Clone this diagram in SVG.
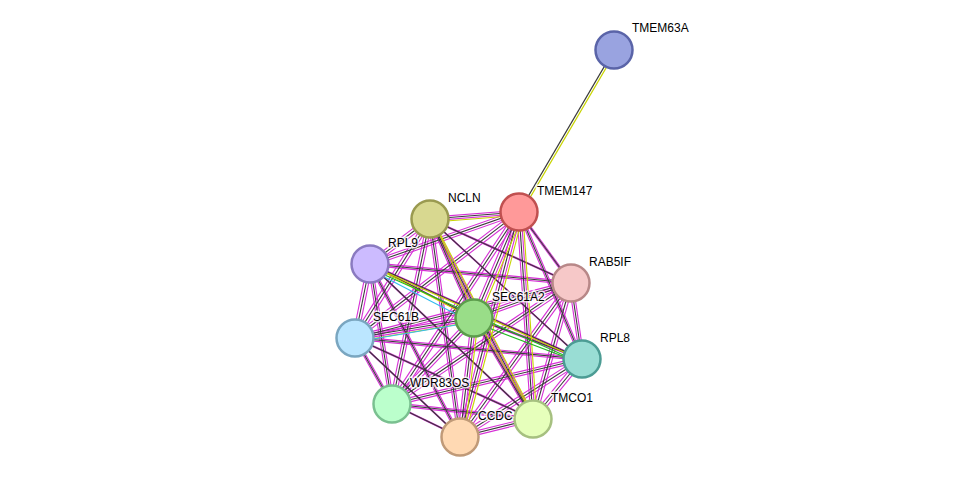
<svg xmlns="http://www.w3.org/2000/svg" xmlns:xlink="http://www.w3.org/1999/xlink" width="976" height="483" viewBox="0 0 976 483">
<style>
.n{stroke-width:2.5}
.t{font-family:"Liberation Sans",Arial,sans-serif;font-size:12px;fill:#000;paint-order:stroke;stroke:#fff;stroke-width:3px;stroke-opacity:0.8}
</style>
<defs>
<g id="e">
<line x1="519" y1="212" x2="430" y2="219"/><line x1="519" y1="212" x2="370" y2="264"/><line x1="519" y1="212" x2="571" y2="283"/><line x1="519" y1="212" x2="474" y2="318"/><line x1="519" y1="212" x2="355" y2="338"/><line x1="519" y1="212" x2="582" y2="359"/><line x1="519" y1="212" x2="392" y2="404"/><line x1="519" y1="212" x2="533" y2="419"/><line x1="519" y1="212" x2="460" y2="437"/>
<line x1="430" y1="219" x2="370" y2="264"/><line x1="430" y1="219" x2="571" y2="283"/><line x1="430" y1="219" x2="474" y2="318"/><line x1="430" y1="219" x2="355" y2="338"/><line x1="430" y1="219" x2="582" y2="359"/><line x1="430" y1="219" x2="392" y2="404"/><line x1="430" y1="219" x2="533" y2="419"/><line x1="430" y1="219" x2="460" y2="437"/>
<line x1="370" y1="264" x2="571" y2="283"/><line x1="370" y1="264" x2="474" y2="318"/><line x1="370" y1="264" x2="355" y2="338"/><line x1="370" y1="264" x2="582" y2="359"/><line x1="370" y1="264" x2="392" y2="404"/><line x1="370" y1="264" x2="533" y2="419"/><line x1="370" y1="264" x2="460" y2="437"/>
<line x1="571" y1="283" x2="474" y2="318"/><line x1="571" y1="283" x2="355" y2="338"/><line x1="571" y1="283" x2="582" y2="359"/><line x1="571" y1="283" x2="392" y2="404"/><line x1="571" y1="283" x2="533" y2="419"/><line x1="571" y1="283" x2="460" y2="437"/>
<line x1="474" y1="318" x2="355" y2="338"/><line x1="474" y1="318" x2="582" y2="359"/><line x1="474" y1="318" x2="392" y2="404"/><line x1="474" y1="318" x2="533" y2="419"/><line x1="474" y1="318" x2="460" y2="437"/>
<line x1="355" y1="338" x2="582" y2="359"/><line x1="355" y1="338" x2="392" y2="404"/><line x1="355" y1="338" x2="533" y2="419"/><line x1="355" y1="338" x2="460" y2="437"/>
<line x1="582" y1="359" x2="392" y2="404"/><line x1="582" y1="359" x2="533" y2="419"/><line x1="582" y1="359" x2="460" y2="437"/>
<line x1="392" y1="404" x2="533" y2="419"/><line x1="392" y1="404" x2="460" y2="437"/>
<line x1="533" y1="419" x2="460" y2="437"/>
</g>
<g id="y">
<line x1="519" y1="212" x2="474" y2="318"/><line x1="519" y1="212" x2="533" y2="419"/><line x1="519" y1="212" x2="460" y2="437"/><line x1="430" y1="219" x2="474" y2="318"/><line x1="370" y1="264" x2="582" y2="359"/><line x1="370" y1="264" x2="474" y2="318"/><line x1="474" y1="318" x2="533" y2="419"/><line x1="474" y1="318" x2="460" y2="437"/><line x1="355" y1="338" x2="474" y2="318"/><line x1="430" y1="219" x2="533" y2="419"/><line x1="430" y1="219" x2="519" y2="212"/>
</g>
</defs>
<g id="connectors" fill="none" stroke-width="1.1">
<use xlink:href="#e" stroke="#d62fd6" transform="translate(-2.2,-1.6)"/>
<use xlink:href="#e" stroke="#d62fd6" transform="translate(2.2,1.6)"/>
<use xlink:href="#e" stroke="#3a3a3a"/>
<use xlink:href="#y" stroke="#c8d400" transform="translate(4,3)"/>
<line x1="370" y1="264" x2="582" y2="359" stroke="#22bb22" transform="translate(-3,3)"/>
<line x1="474" y1="318" x2="582" y2="359" stroke="#22bb22" transform="translate(-1,4)"/>
<line x1="355" y1="338" x2="474" y2="318" stroke="#33bbee" transform="translate(0,4)"/>
<line x1="370" y1="264" x2="474" y2="318" stroke="#33bbee" transform="translate(-3,4)"/>
<line x1="519" y1="212" x2="614" y2="50" stroke="#3a3a3a" stroke-width="1.3"/>
<line x1="521" y1="213" x2="616" y2="51" stroke="#c8d400" stroke-width="1.3"/>
</g>
<g id="TMEM63A"><circle class="n" cx="614" cy="50" r="18.5" fill="#99a3e0" stroke="#5a64a8"/><text class="t" x="632" y="32">TMEM63A</text></g>
<g id="TMEM147"><circle class="n" cx="519" cy="212" r="18.5" fill="#ff9999" stroke="#c05050"/><text class="t" x="537" y="195">TMEM147</text></g>
<g id="NCLN"><circle class="n" cx="430" cy="219" r="18.5" fill="#d8d890" stroke="#9a9a50"/><text class="t" x="448" y="202">NCLN</text></g>
<g id="RPL9"><circle class="n" cx="370" cy="264" r="18.5" fill="#ccbbff" stroke="#8a7ac0"/><text class="t" x="388" y="247">RPL9</text></g>
<g id="RAB5IF"><circle class="n" cx="571" cy="283" r="18.5" fill="#f6c8c8" stroke="#b88888"/><text class="t" x="589" y="266">RAB5IF</text></g>
<g id="SEC61A2"><circle class="n" cx="474" cy="318" r="18.5" fill="#99dd88" stroke="#5c9c4c"/><text class="t" x="492" y="301">SEC61A2</text></g>
<g id="SEC61B"><circle class="n" cx="355" cy="338" r="18.5" fill="#bbe6ff" stroke="#7aa6c0"/><text class="t" x="373" y="321">SEC61B</text></g>
<g id="RPL8"><circle class="n" cx="582" cy="359" r="18.5" fill="#99ddd4" stroke="#4c9c94"/><text class="t" x="600" y="342">RPL8</text></g>
<g id="WDR83OS"><circle class="n" cx="392" cy="404" r="18.5" fill="#bbffcc" stroke="#7ac090"/><text class="t" x="410" y="387">WDR83OS</text></g>
<g id="TMCO1"><circle class="n" cx="533" cy="419" r="18.5" fill="#e6ffbb" stroke="#a6c080"/><text class="t" x="551" y="402">TMCO1</text></g>
<g id="CCDC"><circle class="n" cx="460" cy="437" r="18.5" fill="#ffd9b3" stroke="#c09a78"/><text class="t" x="478" y="420">CCDC</text></g>
</svg>
